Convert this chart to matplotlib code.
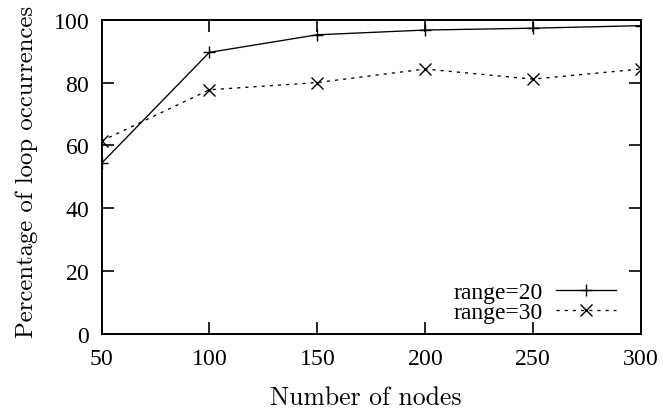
import matplotlib
matplotlib.use("Agg")
import matplotlib.pyplot as plt

nodes = [50, 100, 150, 200, 250, 300]
range20 = [54.3, 89.6, 95.2, 96.7, 97.3, 98.1]
range30 = [61.4, 77.7, 80.0, 84.3, 81.1, 84.3]
xticks = [50, 100, 150, 200, 250, 300]
yticks = [0, 20, 40, 60, 80, 100]

plt.rcParams['font.family'] = ['Liberation Serif', 'DejaVu Serif']
plt.rcParams['axes.formatter.use_mathtext'] = True

W, H = 663, 414
L, R, T, B = 101.5, 640.5, 20.7, 335.0
fig = plt.figure(figsize=(W/100, H/100), dpi=100)
ax = fig.add_axes([L/W, 1 - B/H, (R-L)/W, (B-T)/H])

ax.plot(nodes, range20, color='black', lw=0.95, marker='+', ms=9, mew=1.0,
        label='range=20')
ax.plot(nodes, range30, color='black', lw=0.95, ls=(0, (2.4, 3.8)), marker='x',
        ms=9, mew=1.0, label='range=30')

ax.set_xlim(50, 300)
ax.set_ylim(0, 100)
ax.set_xticks(xticks)
ax.set_yticks(yticks)
ax.tick_params(direction='in', length=8.6, width=1.2, top=True, right=True,
               labelsize=17, colors='black')
ax.tick_params(axis='x', pad=10)
ax.tick_params(axis='y', pad=8.4)
for s in ax.spines.values():
    s.set_linewidth(1.4)

ax.set_xlabel('Number of nodes', fontsize=18.5, family=['cmr10', 'DejaVu Serif'])
ax.xaxis.label.set_va('baseline')
ax.xaxis.set_label_coords((365.5 - L)/(R - L), (B - 405)/(B - T))
ax.set_ylabel('Percentage of loop occurrences', fontsize=17.8,
              family=['cmr10', 'DejaVu Serif'])
ax.yaxis.label.set_va('baseline')
ax.yaxis.set_label_coords((33 - L)/(R - L), (B - 172)/(B - T))

leg = ax.legend(loc='center right', markerfirst=False, frameon=False,
                fontsize=17, handlelength=2.54, handletextpad=0.55,
                labelspacing=-0.06, borderaxespad=0.0, borderpad=0.0,
                bbox_to_anchor=((616 - L)/(R - L), (B - 303.4)/(B - T)))

fig.savefig('out.png', dpi=100)
